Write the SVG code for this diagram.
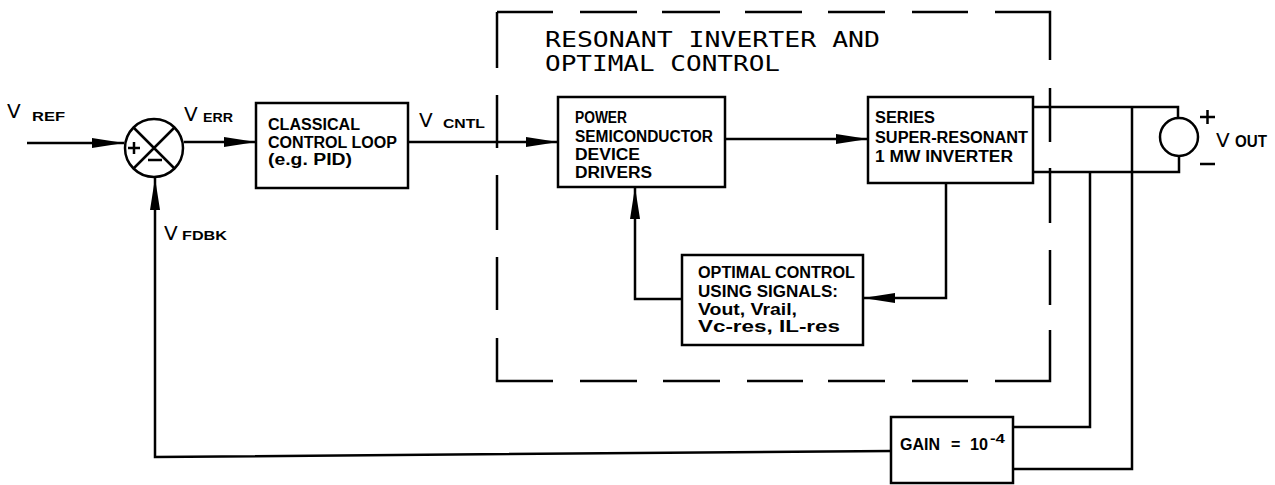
<svg xmlns="http://www.w3.org/2000/svg" width="1275" height="485" viewBox="0 0 1275 485">
<style>
.ln{fill:none;stroke:#000;stroke-width:2.5;stroke-linejoin:miter}
.bx{fill:#fff;stroke:#000;stroke-width:2.5}
.dash{fill:none;stroke:#000;stroke-width:2.5}
.t{font-family:"Liberation Sans",Arial,sans-serif;font-weight:bold;font-size:16px;fill:#000}
.v{font-family:"DejaVu Sans","Liberation Sans",sans-serif;font-size:20px;fill:#000}
.s{font-family:"Liberation Sans",Arial,sans-serif;font-weight:bold;font-size:13px;fill:#000}
.ttl{font-family:"DejaVu Sans Mono","Liberation Mono",monospace;font-size:21px;fill:#000}
</style>
<defs>
<marker id="ah" markerUnits="userSpaceOnUse" viewBox="0 0 32 12" markerWidth="32" markerHeight="12" refX="32" refY="6" orient="auto">
<path d="M0,1 L32,6 L0,11 z" fill="#000"/>
</marker>
</defs>
<rect width="1275" height="485" fill="#fff"/>

<g id="boundary">
<path class="dash" d="M497,12 H553 M580,12 H637 M662,12 H720 M745,12 H802 M828,12 H885 M912,12 H968 M995,12 H1050 V60 M1050,88 V142 M1050,168 V223 M1050,250 V305 M1050,330 V381 H995 M968,381 H912 M885,381 H828 M803,381 H747 M720,381 H663 M637,381 H580 M553,381 H497 V338 M497,310 V257 M497,230 V175 M497,148 V95 M497,68 V12"/>
<text class="ttl" x="545" y="47" textLength="335" lengthAdjust="spacingAndGlyphs">RESONANT INVERTER AND</text>
<text class="ttl" x="545" y="71" textLength="235" lengthAdjust="spacingAndGlyphs">OPTIMAL CONTROL</text>
</g>

<g id="connectors">
<path class="ln" d="M27,143 H124" marker-end="url(#ah)"/>
<path class="ln" d="M184,142 H256" marker-end="url(#ah)"/>
<path class="ln" d="M408,142 H558" marker-end="url(#ah)"/>
<path class="ln" d="M725,139 H868" marker-end="url(#ah)"/>
<path class="ln" d="M946,183 V298 H863" marker-end="url(#ah)"/>
<path class="ln" d="M682,299 H635 V187" marker-end="url(#ah)"/>
<path class="ln" d="M891,451 L155,457 V178" marker-end="url(#ah)"/>
<path class="ln" d="M1033,107 H1178 V118"/>
<path class="ln" d="M1033,172 H1179 V156"/>
<path class="ln" d="M1013,427 H1090 V172"/>
<path class="ln" d="M1013,469 H1132 V107"/>
</g>

<g id="sum">
<circle class="bx" cx="154" cy="148" r="29"/>
<path class="ln" d="M133.5,127.5 L174.5,168.5 M133.5,168.5 L174.5,127.5"/>
<path class="ln" d="M128,148 H140 M134,142 V154 M148,160 H162"/>
</g>

<g id="labels">
<text class="v" x="7" y="118">V</text><text class="s" x="32" y="121" textLength="33" lengthAdjust="spacingAndGlyphs">REF</text>
<text class="v" x="184" y="121">V</text><text class="s" x="203" y="122" textLength="30" lengthAdjust="spacingAndGlyphs">ERR</text>
<text class="v" x="164" y="240">V</text><text class="s" x="182" y="240" textLength="45" lengthAdjust="spacingAndGlyphs">FDBK</text>
<text class="v" x="419" y="127">V</text><text class="s" x="443" y="128" textLength="42" lengthAdjust="spacingAndGlyphs">CNTL</text>
<text class="v" x="1216" y="147">V</text><text class="t" x="1235" y="147" textLength="32" lengthAdjust="spacingAndGlyphs">OUT</text>
</g>

<g id="classical">
<rect class="bx" x="256" y="103" width="152" height="85"/>
<text class="t" x="268" y="130" textLength="92" lengthAdjust="spacingAndGlyphs">CLASSICAL</text>
<text class="t" x="268" y="148" textLength="129" lengthAdjust="spacingAndGlyphs">CONTROL LOOP</text>
<text class="t" x="268" y="165" textLength="84" lengthAdjust="spacingAndGlyphs">(e.g. PID)</text>
</g>

<g id="drivers">
<rect class="bx" x="558" y="97" width="167" height="90"/>
<text class="t" x="575" y="123" textLength="52" lengthAdjust="spacingAndGlyphs">POWER</text>
<text class="t" x="575" y="142" textLength="138" lengthAdjust="spacingAndGlyphs">SEMICONDUCTOR</text>
<text class="t" x="575" y="160" textLength="65" lengthAdjust="spacingAndGlyphs">DEVICE</text>
<text class="t" x="575" y="178" textLength="77" lengthAdjust="spacingAndGlyphs">DRIVERS</text>
</g>

<g id="inverter">
<rect class="bx" x="868" y="97" width="165" height="86"/>
<text class="t" x="875" y="123" textLength="60" lengthAdjust="spacingAndGlyphs">SERIES</text>
<text class="t" x="875" y="143" textLength="153" lengthAdjust="spacingAndGlyphs">SUPER-RESONANT</text>
<text class="t" x="875" y="162" textLength="138" lengthAdjust="spacingAndGlyphs">1 MW INVERTER</text>
</g>

<g id="optimal">
<rect class="bx" x="682" y="255" width="181" height="90"/>
<text class="t" x="698" y="278" textLength="157" lengthAdjust="spacingAndGlyphs">OPTIMAL CONTROL</text>
<text class="t" x="698" y="297" textLength="140" lengthAdjust="spacingAndGlyphs">USING SIGNALS:</text>
<text class="t" x="698" y="315" textLength="99" lengthAdjust="spacingAndGlyphs">Vout, Vrail,</text>
<text class="t" x="698" y="332" textLength="142" lengthAdjust="spacingAndGlyphs">Vc-res, IL-res</text>
</g>

<g id="source">
<circle class="bx" cx="1179" cy="137" r="19"/>
<path class="ln" d="M1200,117 H1215 M1207.5,110 V124 M1200,164 H1215"/>
</g>

<g id="gain">
<rect class="bx" x="891" y="417" width="122" height="66"/>
<text class="t" x="900" y="450" textLength="40" lengthAdjust="spacingAndGlyphs">GAIN</text>
<text class="t" x="951" y="450">=</text>
<text class="t" x="970" y="450" textLength="18" lengthAdjust="spacingAndGlyphs">10</text>
<text class="s" x="990" y="443" textLength="15" lengthAdjust="spacingAndGlyphs">-4</text>
</g>
</svg>
